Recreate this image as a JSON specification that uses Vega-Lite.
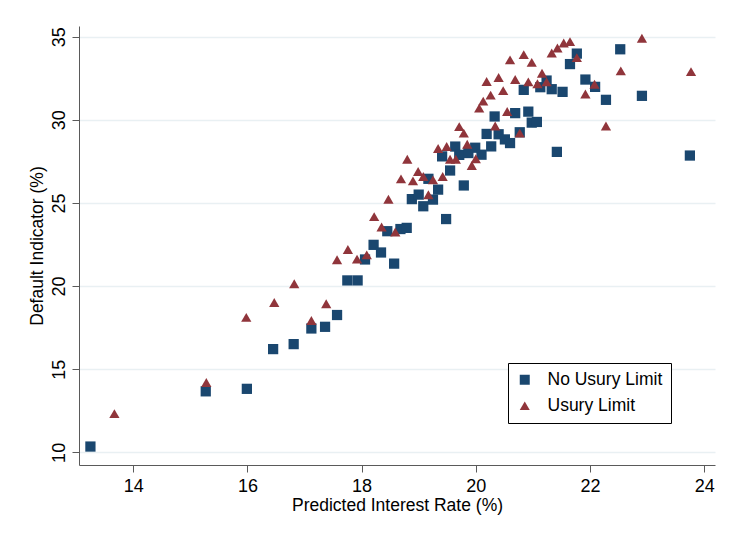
{
  "$schema": "https://vega.github.io/schema/vega-lite/v6.json",
  "autosize": {"type": "none"},
  "padding": {"left": 79, "top": 26, "right": 19, "bottom": 69},
  "width": 636,
  "height": 439,
  "background": "white",
  "config": {
    "view": {"stroke": null},
    "font": "Liberation Sans"
  },
  "data": {
    "values": [
      {"x": 13.25, "y": 10.35, "group": "No Usury Limit"},
      {"x": 15.27, "y": 13.67, "group": "No Usury Limit"},
      {"x": 15.99, "y": 13.82, "group": "No Usury Limit"},
      {"x": 16.45, "y": 16.21, "group": "No Usury Limit"},
      {"x": 16.81, "y": 16.51, "group": "No Usury Limit"},
      {"x": 17.12, "y": 17.45, "group": "No Usury Limit"},
      {"x": 17.36, "y": 17.55, "group": "No Usury Limit"},
      {"x": 17.57, "y": 18.26, "group": "No Usury Limit"},
      {"x": 17.75, "y": 20.34, "group": "No Usury Limit"},
      {"x": 17.93, "y": 20.34, "group": "No Usury Limit"},
      {"x": 18.06, "y": 21.6, "group": "No Usury Limit"},
      {"x": 18.21, "y": 22.48, "group": "No Usury Limit"},
      {"x": 18.34, "y": 22.02, "group": "No Usury Limit"},
      {"x": 18.45, "y": 23.3, "group": "No Usury Limit"},
      {"x": 18.57, "y": 21.35, "group": "No Usury Limit"},
      {"x": 18.68, "y": 23.43, "group": "No Usury Limit"},
      {"x": 18.79, "y": 23.5, "group": "No Usury Limit"},
      {"x": 18.88, "y": 25.23, "group": "No Usury Limit"},
      {"x": 19.0, "y": 25.5, "group": "No Usury Limit"},
      {"x": 19.08, "y": 24.8, "group": "No Usury Limit"},
      {"x": 19.17, "y": 26.45, "group": "No Usury Limit"},
      {"x": 19.25, "y": 25.2, "group": "No Usury Limit"},
      {"x": 19.34, "y": 25.8, "group": "No Usury Limit"},
      {"x": 19.41, "y": 27.8, "group": "No Usury Limit"},
      {"x": 19.48, "y": 24.03, "group": "No Usury Limit"},
      {"x": 19.55, "y": 26.95, "group": "No Usury Limit"},
      {"x": 19.64, "y": 28.39, "group": "No Usury Limit"},
      {"x": 19.71, "y": 27.89, "group": "No Usury Limit"},
      {"x": 19.79, "y": 26.05, "group": "No Usury Limit"},
      {"x": 19.87, "y": 28.0, "group": "No Usury Limit"},
      {"x": 19.99, "y": 28.32, "group": "No Usury Limit"},
      {"x": 20.1, "y": 27.9, "group": "No Usury Limit"},
      {"x": 20.19, "y": 29.15, "group": "No Usury Limit"},
      {"x": 20.27, "y": 28.4, "group": "No Usury Limit"},
      {"x": 20.33, "y": 30.2, "group": "No Usury Limit"},
      {"x": 20.4, "y": 29.13, "group": "No Usury Limit"},
      {"x": 20.51, "y": 28.82, "group": "No Usury Limit"},
      {"x": 20.6, "y": 28.6, "group": "No Usury Limit"},
      {"x": 20.69, "y": 30.4, "group": "No Usury Limit"},
      {"x": 20.77, "y": 29.25, "group": "No Usury Limit"},
      {"x": 20.84, "y": 31.8, "group": "No Usury Limit"},
      {"x": 20.92, "y": 30.49, "group": "No Usury Limit"},
      {"x": 20.98, "y": 29.83, "group": "No Usury Limit"},
      {"x": 21.07, "y": 29.87, "group": "No Usury Limit"},
      {"x": 21.13, "y": 31.96, "group": "No Usury Limit"},
      {"x": 21.24, "y": 32.36, "group": "No Usury Limit"},
      {"x": 21.33, "y": 31.84, "group": "No Usury Limit"},
      {"x": 21.42, "y": 28.07, "group": "No Usury Limit"},
      {"x": 21.52, "y": 31.68, "group": "No Usury Limit"},
      {"x": 21.65, "y": 33.35, "group": "No Usury Limit"},
      {"x": 21.77, "y": 33.98, "group": "No Usury Limit"},
      {"x": 21.92, "y": 32.42, "group": "No Usury Limit"},
      {"x": 22.09, "y": 31.98, "group": "No Usury Limit"},
      {"x": 22.28, "y": 31.2, "group": "No Usury Limit"},
      {"x": 22.53, "y": 34.24, "group": "No Usury Limit"},
      {"x": 22.91, "y": 31.44, "group": "No Usury Limit"},
      {"x": 23.75, "y": 27.85, "group": "No Usury Limit"},
      {"x": 13.67, "y": 12.33, "group": "Usury Limit"},
      {"x": 15.28, "y": 14.2, "group": "Usury Limit"},
      {"x": 15.98, "y": 18.12, "group": "Usury Limit"},
      {"x": 16.47, "y": 19.01, "group": "Usury Limit"},
      {"x": 16.82, "y": 20.14, "group": "Usury Limit"},
      {"x": 17.12, "y": 17.93, "group": "Usury Limit"},
      {"x": 17.38, "y": 18.94, "group": "Usury Limit"},
      {"x": 17.57, "y": 21.58, "group": "Usury Limit"},
      {"x": 17.76, "y": 22.2, "group": "Usury Limit"},
      {"x": 17.92, "y": 21.62, "group": "Usury Limit"},
      {"x": 18.09, "y": 21.88, "group": "Usury Limit"},
      {"x": 18.22, "y": 24.18, "group": "Usury Limit"},
      {"x": 18.35, "y": 23.55, "group": "Usury Limit"},
      {"x": 18.47, "y": 25.22, "group": "Usury Limit"},
      {"x": 18.59, "y": 23.25, "group": "Usury Limit"},
      {"x": 18.69, "y": 26.45, "group": "Usury Limit"},
      {"x": 18.8, "y": 27.63, "group": "Usury Limit"},
      {"x": 18.9, "y": 26.33, "group": "Usury Limit"},
      {"x": 18.99, "y": 26.89, "group": "Usury Limit"},
      {"x": 19.08, "y": 26.59, "group": "Usury Limit"},
      {"x": 19.17, "y": 25.49, "group": "Usury Limit"},
      {"x": 19.25, "y": 26.39, "group": "Usury Limit"},
      {"x": 19.34, "y": 28.27, "group": "Usury Limit"},
      {"x": 19.42, "y": 26.59, "group": "Usury Limit"},
      {"x": 19.49, "y": 28.39, "group": "Usury Limit"},
      {"x": 19.55, "y": 27.63, "group": "Usury Limit"},
      {"x": 19.65, "y": 27.63, "group": "Usury Limit"},
      {"x": 19.71, "y": 29.59, "group": "Usury Limit"},
      {"x": 19.79, "y": 29.2, "group": "Usury Limit"},
      {"x": 19.85, "y": 28.53, "group": "Usury Limit"},
      {"x": 19.93, "y": 27.25, "group": "Usury Limit"},
      {"x": 20.0, "y": 27.66, "group": "Usury Limit"},
      {"x": 20.06, "y": 30.7, "group": "Usury Limit"},
      {"x": 20.13, "y": 31.12, "group": "Usury Limit"},
      {"x": 20.19, "y": 32.3, "group": "Usury Limit"},
      {"x": 20.26, "y": 31.48, "group": "Usury Limit"},
      {"x": 20.34, "y": 29.63, "group": "Usury Limit"},
      {"x": 20.4, "y": 32.54, "group": "Usury Limit"},
      {"x": 20.48, "y": 31.75, "group": "Usury Limit"},
      {"x": 20.55, "y": 30.5, "group": "Usury Limit"},
      {"x": 20.6, "y": 33.6, "group": "Usury Limit"},
      {"x": 20.69, "y": 32.42, "group": "Usury Limit"},
      {"x": 20.77, "y": 29.2, "group": "Usury Limit"},
      {"x": 20.84, "y": 33.92, "group": "Usury Limit"},
      {"x": 20.92, "y": 32.28, "group": "Usury Limit"},
      {"x": 20.98, "y": 33.45, "group": "Usury Limit"},
      {"x": 21.08, "y": 32.17, "group": "Usury Limit"},
      {"x": 21.16, "y": 32.8, "group": "Usury Limit"},
      {"x": 21.24, "y": 32.28, "group": "Usury Limit"},
      {"x": 21.33, "y": 34.02, "group": "Usury Limit"},
      {"x": 21.43, "y": 34.32, "group": "Usury Limit"},
      {"x": 21.54, "y": 34.62, "group": "Usury Limit"},
      {"x": 21.65, "y": 34.7, "group": "Usury Limit"},
      {"x": 21.77, "y": 33.74, "group": "Usury Limit"},
      {"x": 21.92, "y": 31.55, "group": "Usury Limit"},
      {"x": 22.08, "y": 32.14, "group": "Usury Limit"},
      {"x": 22.28, "y": 29.63, "group": "Usury Limit"},
      {"x": 22.54, "y": 32.94, "group": "Usury Limit"},
      {"x": 22.91, "y": 34.9, "group": "Usury Limit"},
      {"x": 23.77, "y": 32.9, "group": "Usury Limit"}
    ]
  },
  "mark": {"type": "point", "filled": true, "opacity": 1, "size": 105},
  "encoding": {
    "x": {
      "field": "x", "type": "quantitative",
      "scale": {"domain": [13.05, 24.19], "nice": false, "zero": false},
      "axis": {
        "title": "Predicted Interest Rate (%)",
        "values": [14, 16, 18, 20, 22, 24],
        "grid": false,
        "domainColor": "#5a5a5a", "tickColor": "#5a5a5a", "tickSize": 7,
        "labelFontSize": 18, "labelColor": "#000", "labelPadding": 5,
        "titleFontSize": 17.5, "titleFontWeight": "normal", "titleColor": "#000", "titlePadding": 1
      }
    },
    "y": {
      "field": "y", "type": "quantitative",
      "scale": {"domain": [9.24, 35.64], "nice": false, "zero": false},
      "axis": {
        "title": "Default Indicator (%)",
        "values": [10, 15, 20, 25, 30, 35],
        "grid": true, "gridColor": "#e9f0f3", "gridWidth": 1.5,
        "domainColor": "#5a5a5a", "tickColor": "#5a5a5a", "tickSize": 7,
        "labelAngle": 270, "labelAlign": "center", "labelBaseline": "alphabetic",
        "labelFontSize": 18, "labelColor": "#000", "labelPadding": 8,
        "titleFontSize": 17.5, "titleFontWeight": "normal", "titleColor": "#000", "titlePadding": 4
      }
    },
    "color": {
      "field": "group", "type": "nominal",
      "scale": {"domain": ["No Usury Limit", "Usury Limit"], "range": ["#1a476f", "#90353b"]},
      "legend": {
        "title": null, "orient": "none", "legendX": 429, "legendY": 337,
        "strokeColor": "#000", "fillColor": "white", "padding": 8,
        "labelFontSize": 17.5, "labelColor": "#000", "symbolSize": 100, "labelOffset": 14,
        "rowPadding": 7, "labelExpr": "datum.label + '  '"
      }
    },
    "shape": {
      "field": "group", "type": "nominal",
      "scale": {"domain": ["No Usury Limit", "Usury Limit"], "range": ["square", "triangle-up"]},
      "legend": {
        "title": null, "orient": "none", "legendX": 429, "legendY": 337,
        "strokeColor": "#000", "fillColor": "white", "padding": 8,
        "labelFontSize": 17.5, "labelColor": "#000", "symbolSize": 100, "labelOffset": 14,
        "rowPadding": 7, "labelExpr": "datum.label + '  '"
      }
    }
  }
}
